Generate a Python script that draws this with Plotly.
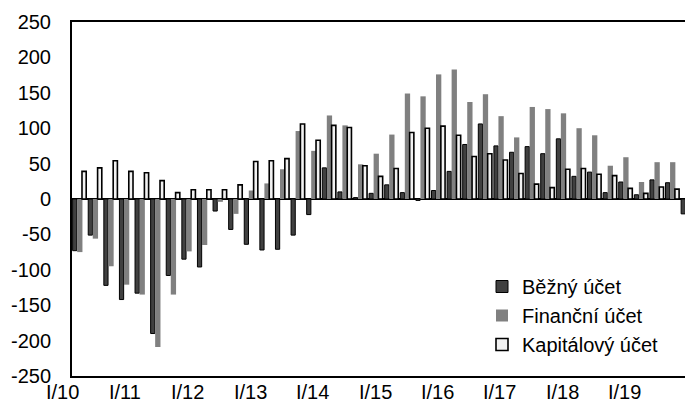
import plotly.graph_objects as go

quarters = [f"{q}/{y}" for y in range(10, 20) for q in ["I", "II", "III", "IV"]]
year_labels = [f"I/{y}" for y in range(10, 20)]

bezny = [-73, -51, -122, -142, -133, -190, -108, -85, -96, -17,
         -43, -64, -72, -71, -51, -22, 44, 10, 2, 8,
         20, 9, -2, 12, 39, 77, 106, 75, 66, 74,
         64, 85, 32, 38, 9, 24, 6, 27, 23, -21]
financni = [-75, -56, -95, -121, -135, -209, -135, -74, -65, -4,
            -21, 12, 22, 42, 96, 68, 118, 104, 49, 64,
            91, 149, 145, 176, 183, 137, 148, 117, 87, 130,
            127, 121, 100, 90, 47, 59, 24, 52, 52, 32]
kapitalovy = [39, 44, 54, 39, 37, 26, 9, 13, 13, 13,
              20, 53, 54, 57, 106, 83, 104, 101, 47, 32,
              43, 94, 100, 103, 90, 60, 64, 55, 36, 21,
              16, 42, 43, 35, 33, 15, 8, 17, 14, 15]

y_ticks = list(range(-250, 251, 50))

FONT = "Liberation Sans, Arial, sans-serif"
xpos = list(range(len(quarters)))
XMIN, XMAX = -0.5, 39.3

fig = go.Figure()
fig.add_trace(go.Bar(
    x=xpos, y=bezny, name="Běžný účet", customdata=quarters,
    marker=dict(color="#404040", line=dict(color="#000000", width=1)),
    offset=-0.46, width=0.27,
))
fig.add_trace(go.Bar(
    x=xpos, y=financni, name="Finanční účet", customdata=quarters,
    marker=dict(color="#808080", line=dict(color="#808080", width=0)),
    offset=-0.17, width=0.34,
))
fig.add_trace(go.Bar(
    x=xpos, y=kapitalovy, name="Kapitálový účet", customdata=quarters,
    marker=dict(color="#f2f2f2", line=dict(color="#000000", width=1.6)),
    offset=0.14, width=0.27,
))

# page body has an 8px margin: figure sits at (8, 8) in the window
plot_top, plot_bottom = 22, 376
annotations = []
for k, lab in enumerate(year_labels):
    xv = 4 * k - 1.08
    annotations.append(dict(
        text=lab, xref="paper", yref="paper",
        x=(xv - XMIN) / (XMAX - XMIN), y=(plot_bottom - 392) / (plot_bottom - plot_top),
        xanchor="center", yanchor="middle", showarrow=False,
        font=dict(family=FONT, size=20, color="#000000"),
    ))

fig.update_layout(
    width=685, height=402,
    margin=dict(l=64, r=0, t=14, b=34),
    paper_bgcolor="white", plot_bgcolor="white",
    barmode="overlay",
    font=dict(family=FONT, size=20, color="#000000"),
    showlegend=True,
    legend=dict(
        x=(482 - 72) / 621, xanchor="left",
        y=(plot_bottom - 267) / (plot_bottom - plot_top), yanchor="top",
        bgcolor="rgba(0,0,0,0)", font=dict(family=FONT, size=20, color="#000000"),
        itemwidth=30,
    ),
    annotations=annotations,
)
fig.update_xaxes(
    range=[XMIN, XMAX], showgrid=False, zeroline=False,
    showline=True, linecolor="#000000", linewidth=2, mirror=True,
    showticklabels=False, ticks="",
)
fig.update_yaxes(
    range=[-250, 250], tickvals=y_ticks, ticktext=[str(v) for v in y_ticks],
    showgrid=False, zeroline=True, zerolinecolor="#000000", zerolinewidth=2,
    showline=True, linecolor="#000000", linewidth=2, ticks="",
    ticklabelstandoff=15,
    tickfont=dict(family=FONT, size=20, color="#000000"),
)

fig.write_html("out.html")
